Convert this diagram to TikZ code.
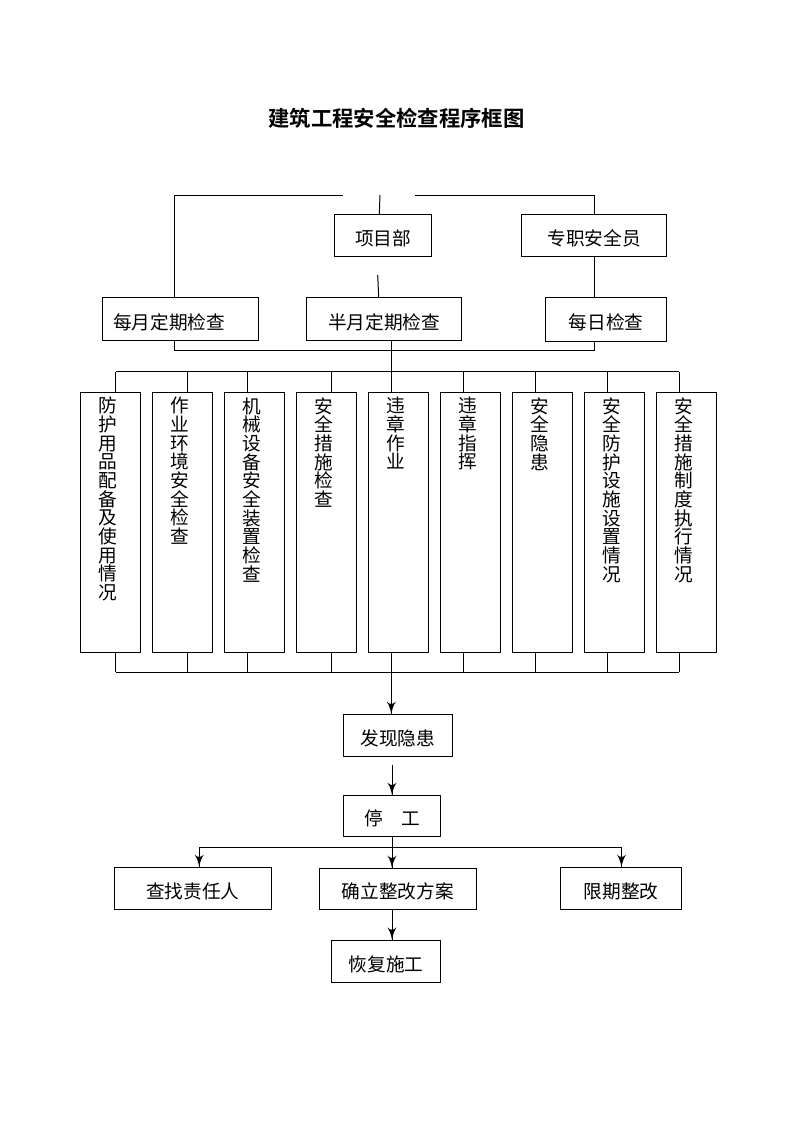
\documentclass[tikz,border=0pt]{standalone}
\usepackage{fontspec}
\setmainfont{Noto Sans CJK SC}[BoldFont={Noto Sans CJK SC Bold}]
\usepackage{tikz}
\usetikzlibrary{arrows}
\usetikzlibrary{decorations.markings}
\tikzset{->/.style = {decoration={markings,
                                  mark=at position 1 with {\arrow[scale=1.8]{latex'}}},
                      postaction={decorate}}}
\tikzset{box/.style = {draw, inner sep = 0, font = \fontsize{14}{14}\selectfont,
                       text height = 1.5em, text depth = 0pt}}
\tikzset{col/.style = {draw, inner sep = 0, minimum width = 45pt, minimum height = 195pt}}
\tikzset{vtext/.style = {align = center, inner sep = 0, anchor = north,
                         font = \fontsize{14}{14}\selectfont}}

\begin{document}
\begin{tikzpicture}[x=0.75pt, y=-0.75pt, line width=0.75pt]
      \useasboundingbox (0, 0) rectangle (793, 1122);

      \node [font = \bfseries\fontsize{16}{16}\selectfont] (title) at (396.5, 118) {建筑工程安全检查程序框图};

      \node [box, minimum width = 72.5pt, minimum height = 31.3pt] (proj) at (383.3, 235.8) {项目部};
      \node [box, minimum width = 108.5pt, minimum height = 30.8pt] (zz) at (594.3, 235.5) {专职安全员};
      \node [box, minimum width = 117pt, minimum height = 31.9pt, text width = 100.5pt,
             align = left, inner xsep = 8.25pt] (mon) at (180, 319.2) {每月定期检查};
      \node [box, minimum width = 116.5pt, minimum height = 32.3pt] (half) at (384.3, 319.2) {半月定期检查};
      \node [box, minimum width = 90.5pt, minimum height = 32.3pt] (day) at (606.3, 319.5) {每日检查};

      \coordinate (tl) at (174.3, 195);
      \coordinate (gl) at (343, 195);
      \coordinate (gr) at (415, 195);
      \coordinate (tr) at (594.3, 195);
      \coordinate (bl) at (174.3, 350.7);
      \coordinate (br) at (594.3, 350.7);
      \coordinate (k1) at (380, 195);
      \coordinate (k2) at (379.3, 214);
      \coordinate (k3) at (377.7, 275);
      \coordinate (k4) at (378.7, 297.5);

      \draw (mon.north -| tl) -- (tl) -- (gl);
      \draw (gr) -- (tr) -- (zz.north -| tr);
      \draw (zz.south -| tr) -- (day.north -| tr);
      \draw (k1) -- (k2);
      \draw (k3) -- (k4);
      \draw (mon.south -| bl) -- (bl) -- (br) -- (day.south -| br);

      \foreach \i/\cx/\txt in {1/115.7/{防\\护\\用\\品\\配\\备\\及\\使\\用\\情\\况},
                               2/187.2/{作\\业\\环\\境\\安\\全\\检\\查},
                               3/247/{机\\械\\设\\备\\安\\全\\装\\置\\检\\查},
                               4/331/{安\\全\\措\\施\\检\\查},
                               5/391.3/{违\\章\\作\\业},
                               6/463.2/{违\\章\\指\\挥},
                               7/535.1/{安\\全\\隐\\患},
                               8/607.1/{安\\全\\防\\护\\设\\施\\设\\置\\情\\况},
                               9/679/{安\\全\\措\\施\\制\\度\\执\\行\\情\\况}} {
        \node [col] (c\i) at ({110 + 72*(\i - 1)}, 522) {};
        \node [vtext] (t\i) at ([xshift = -1.5pt, yshift = -4pt]c\i.north) {\txt};
        \coordinate (u\i) at (\cx, 371.7);
        \coordinate (d\i) at (\cx, 672);
        \draw (u\i) -- (c\i.north -| u\i);
        \draw (c\i.south -| d\i) -- (d\i);
      }
      \draw (u1) -- (u9);
      \draw (d1) -- (d9);
      \draw (half.south -| u5) -- (u5);

      \node [box, minimum width = 81.6pt, minimum height = 31.5pt] (find) at (397.9, 735.3) {发现隐患};
      \node [box, minimum width = 72.7pt, minimum height = 30.75pt] (stop) at (392, 815.8) {停\hspace{1em}工};
      \node [box, minimum width = 117.3pt, minimum height = 31.5pt] (who) at (192.8, 888.3) {查找责任人};
      \node [box, minimum width = 117.5pt, minimum height = 30.75pt] (plan) at (397.9, 888.8) {确立整改方案};
      \node [box, minimum width = 90.5pt, minimum height = 31.5pt] (lim) at (621.2, 888.3) {限期整改};
      \node [box, minimum width = 81.7pt, minimum height = 31.7pt] (back) at (386, 961.2) {恢复施工};

      \coordinate (f0) at ([yshift = -6pt]find.south);
      \coordinate (s1) at (199.2, 847);
      \coordinate (sp) at (392, 847);
      \coordinate (s3) at (621.5, 847);

      \draw [->] (d5) -- (d5 |- find.north);
      \draw [->] (f0 -| stop.north) -- (stop.north);
      \draw (stop.south) -- (sp);
      \draw (s1) -- (s3);
      \draw [->] (s1) -- (s1 |- who.north);
      \draw [->] (sp) -- (sp |- plan.north);
      \draw [->] (s3) -- (s3 |- lim.north);
      \draw [->] (plan.south -| sp) -- (back.north -| sp);
    \end{tikzpicture}
\end{document}
